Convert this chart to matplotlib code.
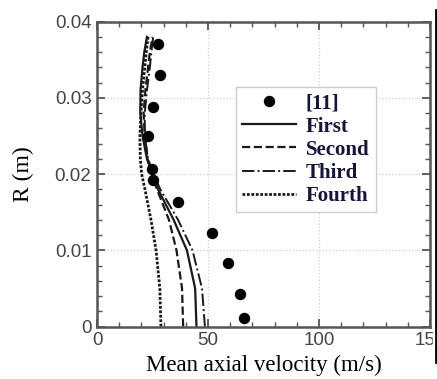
import numpy as np
import matplotlib.pyplot as plt
from matplotlib.lines import Line2D
from matplotlib.patches import Rectangle
from matplotlib.ticker import MultipleLocator

# radial positions of the computed profiles
r_sim = [0.0, 0.005, 0.010, 0.014, 0.018, 0.020, 0.022, 0.025, 0.028, 0.031, 0.034, 0.036, 0.038]
u_first = [44.8, 44.2, 40.5, 34.5, 27.5, 25.0, 22.5, 20.5, 19.5, 19.6, 20.5, 21.3, 22.5]
u_second = [38.8, 38.3, 35.8, 32.4, 27.0, 24.6, 22.8, 21.5, 21.0, 21.8, 23.0, 23.8, 25.0]
u_third = [48.6, 47.3, 43.0, 36.5, 28.5, 25.5, 23.0, 21.5, 21.5, 22.5, 23.8, 24.5, 25.3]
u_fourth = [28.8, 28.3, 26.6, 24.3, 21.6, 20.1, 19.5, 19.3, 19.8, 20.5, 21.5, 22.2, 23.0]

# experimental data [11]
u_exp = [27.6, 28.4, 25.3, 22.8, 24.8, 25.4, 36.6, 51.6, 58.9, 64.3, 66.3]
r_exp = [0.0371, 0.0330, 0.0288, 0.0250, 0.0207, 0.0192, 0.0163, 0.0123, 0.0083, 0.0042, 0.0011]

x_ticks = [0, 50, 100, 150]
x_labels = ['0', '50', '100', '150']
y_ticks = [0, 0.01, 0.02, 0.03, 0.04]
y_labels = ['0', '0.01', '0.02', '0.03', '0.04']

fig = plt.figure(figsize=(4.37, 3.79), dpi=100)
ax = fig.add_axes([0.222, 0.1385, 0.762, 0.8045])

lc = '#1a1a1a'
ax.plot(u_exp, r_exp, 'o', color='black', ms=7.2, label='[11]', zorder=5)
ax.plot(u_first, r_sim, '-', color=lc, lw=1.6, label='First')
ax.plot(u_second, r_sim, '--', color=lc, lw=1.6, label='Second')
ax.plot(u_third, r_sim, '-.', color=lc, lw=1.4, label='Third')
ax.plot(u_fourth, r_sim, color=lc, lw=2.0, ls=(0, (1, 0.6)), label='Fourth')

ax.set_xticks(x_ticks, x_labels)
ax.set_yticks(y_ticks, y_labels)
ax.xaxis.set_minor_locator(MultipleLocator(10))
ax.yaxis.set_minor_locator(MultipleLocator(0.002))
ax.set_xlim(0, 150)
ax.set_ylim(0, 0.04)

ax.grid(True, which='major', ls=':', color='#cfcfcf', lw=0.9)
for s in ax.spines.values():
    s.set_color('#555555')
    s.set_linewidth(1.8)
ax.tick_params(which='both', direction='in', top=True, right=True, color='#555555')
ax.tick_params(which='major', length=6, width=1.3, labelsize=13.5, labelcolor='#444444', pad=4)
ax.tick_params(which='minor', length=3.5, width=1.0)
for t in ax.get_xticklabels() + ax.get_yticklabels():
    t.set_family('Liberation Sans')

ax.set_xlabel('Mean axial velocity (m/s)', family='Liberation Serif', fontsize=16.5, labelpad=4)
ax.set_ylabel('R (m)', family='Liberation Serif', fontsize=17, labelpad=15)

leg = ax.legend(loc='upper left', bbox_to_anchor=(0.540, 0.770), bbox_transform=fig.transFigure,
                prop={'family': 'Liberation Serif', 'weight': 'bold', 'size': 15},
                handlelength=2.6, handletextpad=0.45, labelspacing=0.15, borderpad=0.3,
                borderaxespad=0, fancybox=False, framealpha=1, edgecolor='#cccccc')
for t in leg.get_texts():
    t.set_color('#15153a')

# cropped edge of the original figure
fig.add_artist(Rectangle((433 / 437, 0), 4 / 437, 1, transform=fig.transFigure, color='white', zorder=10))
fig.add_artist(Line2D([436 / 437, 436 / 437], [1 - 362 / 379, 1 - 10 / 379], transform=fig.transFigure,
                      color='black', lw=2, zorder=11))

fig.savefig('out.png', dpi=100)
